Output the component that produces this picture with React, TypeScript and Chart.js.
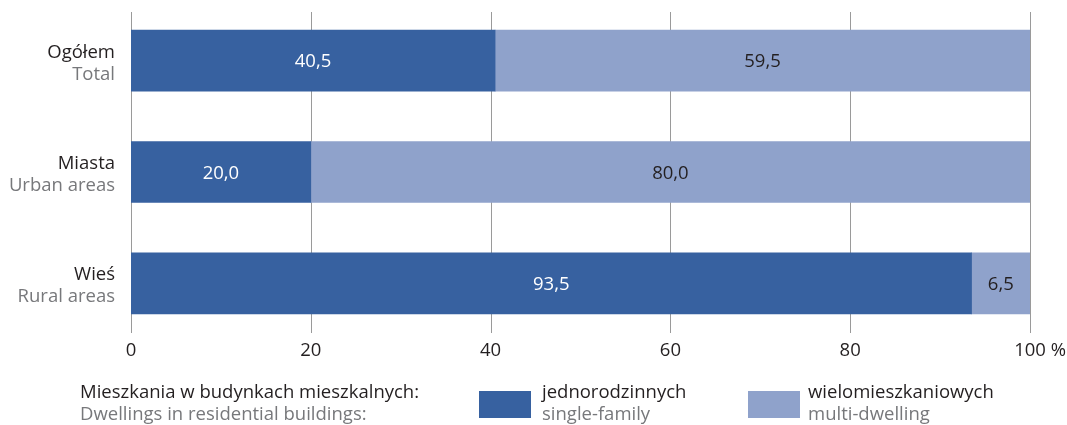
import React, { useEffect, useRef } from "react";
import { Chart, registerables } from "chart.js";

Chart.register(...registerables);

const categoriesPl = ["Ogółem", "Miasta", "Wieś"];
const categoriesEn = ["Total", "Urban areas", "Rural areas"];
const singleFamily = [40.5, 20.0, 93.5];
const multiDwelling = [59.5, 80.0, 6.5];
const xTicks = [0, 20, 40, 60, 80, 100];
const seriesPl = ["jednorodzinnych", "wielomieszkaniowych"];
const seriesEn = ["single-family", "multi-dwelling"];
const legendTitlePl = "Mieszkania w budynkach mieszkalnych:";
const legendTitleEn = "Dwellings in residential buildings:";

const DARK = "#3761a0";
const LIGHT = "#8fa2cb";
const GRID = "#9a9a9a";
const TEXT = "#231f20";
const SUB = "#77787b";
const FONT = '"Open Sans", "Noto Sans", sans-serif';

const fmt = (v: number) => v.toFixed(1).replace(".", ",");

const decorations = {
  id: "decorations",
  beforeDatasetsDraw(chart: any) {
    const { ctx, scales } = chart;
    const x = scales.x;
    ctx.save();
    ctx.strokeStyle = GRID;
    ctx.lineWidth = 1;
    xTicks.forEach((t) => {
      const px = Math.round(x.getPixelForValue(t)) + 0.5;
      ctx.beginPath();
      ctx.moveTo(px, 12);
      ctx.lineTo(px, 333);
      ctx.stroke();
    });
    ctx.restore();
  },
  afterDatasetsDraw(chart: any) {
    const { ctx, scales } = chart;
    const x = scales.x;
    const y = scales.y;
    ctx.save();
    ctx.font = `18.5px ${FONT}`;
    ctx.textBaseline = "alphabetic";

    // value labels centred in each segment
    ctx.textAlign = "center";
    categoriesPl.forEach((_, i) => {
      const cy = y.getPixelForValue(i) + 6.5;
      const a = singleFamily[i];
      const b = multiDwelling[i];
      ctx.fillStyle = "#ffffff";
      ctx.fillText(fmt(a), (x.getPixelForValue(0) + x.getPixelForValue(a)) / 2, cy);
      ctx.fillStyle = TEXT;
      ctx.fillText(fmt(b), (x.getPixelForValue(a) + x.getPixelForValue(a + b)) / 2, cy);
    });

    // category labels
    ctx.textAlign = "right";
    categoriesPl.forEach((c, i) => {
      const cy = y.getPixelForValue(i);
      ctx.fillStyle = TEXT;
      ctx.fillText(c, 115, cy - 3);
      ctx.fillStyle = SUB;
      ctx.fillText(categoriesEn[i], 115, cy + 19);
    });

    // x tick labels
    ctx.fillStyle = TEXT;
    xTicks.forEach((t) => {
      const px = x.getPixelForValue(t);
      const s = String(t);
      const w = ctx.measureText(s).width;
      ctx.textAlign = "left";
      ctx.fillText(s, px - w / 2, 356);
      if (t === 100) ctx.fillText(" %", px + w / 2, 356);
    });

    // legend
    ctx.textAlign = "left";
    ctx.fillStyle = TEXT;
    ctx.fillText(legendTitlePl, 80, 398);
    ctx.fillStyle = SUB;
    ctx.fillText(legendTitleEn, 80, 420);
    const boxes = [
      { x: 479, color: DARK, tx: 542 },
      { x: 748, color: LIGHT, tx: 808 },
    ];
    boxes.forEach((b, i) => {
      ctx.fillStyle = b.color;
      ctx.fillRect(b.x, 391, 52, 27);
      ctx.fillStyle = TEXT;
      ctx.fillText(seriesPl[i], b.tx, 398);
      ctx.fillStyle = SUB;
      ctx.fillText(seriesEn[i], b.tx, 420);
    });
    ctx.restore();
  },
};

export default function App() {
  const ref = useRef<HTMLCanvasElement>(null);
  useEffect(() => {
    if (!ref.current) return;
    const chart = new Chart(ref.current, {
      type: "bar",
      data: {
        labels: categoriesPl,
        datasets: [
          { label: seriesPl[0], data: singleFamily, backgroundColor: DARK, borderWidth: 0 },
          { label: seriesPl[1], data: multiDwelling, backgroundColor: LIGHT, borderWidth: 0 },
        ],
      },
      options: {
        indexAxis: "y",
        animation: false,
        responsive: false,
        layout: { padding: { left: 131, right: 37, top: 5, bottom: 86 } },
        plugins: { legend: { display: false }, tooltip: { enabled: false } },
        scales: {
          x: { stacked: true, min: 0, max: 100, display: false },
          y: { stacked: true, display: false },
        },
        datasets: { bar: { barThickness: 61 } },
      },
      plugins: [decorations],
    });
    return () => chart.destroy();
  }, []);
  return (
    <div style={{ position: "absolute", left: 0, top: 0, width: 1067, height: 425, background: "#fff" }}>
      <canvas ref={ref} width={1067} height={425} />
    </div>
  );
}
